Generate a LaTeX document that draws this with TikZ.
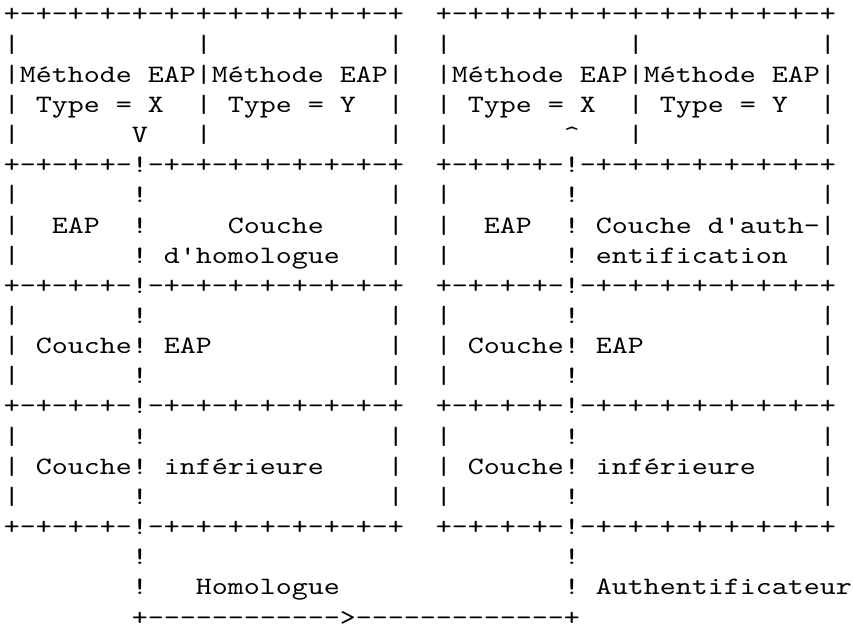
\documentclass[tikz,border=0pt]{standalone}
\usepackage{fontspec}
\setmonofont{lmmono10-regular.otf}[FakeStretch=1.219]
\tikzset{asciiline/.style={anchor=base west, inner sep=0pt, outer sep=0pt,
  font=\ttfamily\fontsize{25pt}{30pt}\selectfont, text=black}}
\begin{document}
\begin{tikzpicture}
\fill[white] (0,0) rectangle (853pt,-631pt);
\useasboundingbox (0,0) rectangle (853pt,-631pt);
\node[asciiline] (l0) at (4pt,-22pt) {+-+-+-+-+-+-+-+-+-+-+-+-+~~+-+-+-+-+-+-+-+-+-+-+-+-+};
\node[asciiline] (l1) at (4pt,-52.15pt) {|~~~~~~~~~~~|~~~~~~~~~~~|~~|~~~~~~~~~~~|~~~~~~~~~~~|};
\node[asciiline] (l2) at (4pt,-82.3pt) {|Méthode~EAP|Méthode~EAP|~~|Méthode~EAP|Méthode~EAP|};
\node[asciiline] (l3) at (4pt,-112.45pt) {|~Type~=~X~~|~Type~=~Y~~|~~|~Type~=~X~~|~Type~=~Y~~|};
\node[asciiline] (l4) at (4pt,-142.6pt) {|~~~~~~~V~~~|~~~~~~~~~~~|~~|~~~~~~~\textasciicircum~~~|~~~~~~~~~~~|};
\node[asciiline] (l5) at (4pt,-172.75pt) {+-+-+-+-!-+-+-+-+-+-+-+-+~~+-+-+-+-!-+-+-+-+-+-+-+-+};
\node[asciiline] (l6) at (4pt,-202.9pt) {|~~~~~~~!~~~~~~~~~~~~~~~|~~|~~~~~~~!~~~~~~~~~~~~~~~|};
\node[asciiline] (l7) at (4pt,-233.05pt) {|~~EAP~~!~~~~~Couche~~~~|~~|~~EAP~~!~Couche~d'auth-|};
\node[asciiline] (l8) at (4pt,-263.2pt) {|~~~~~~~!~d'homologue~~~|~~|~~~~~~~!~entification~~|};
\node[asciiline] (l9) at (4pt,-293.35pt) {+-+-+-+-!-+-+-+-+-+-+-+-+~~+-+-+-+-!-+-+-+-+-+-+-+-+};
\node[asciiline] (l10) at (4pt,-323.5pt) {|~~~~~~~!~~~~~~~~~~~~~~~|~~|~~~~~~~!~~~~~~~~~~~~~~~|};
\node[asciiline] (l11) at (4pt,-353.65pt) {|~Couche!~EAP~~~~~~~~~~~|~~|~Couche!~EAP~~~~~~~~~~~|};
\node[asciiline] (l12) at (4pt,-383.8pt) {|~~~~~~~!~~~~~~~~~~~~~~~|~~|~~~~~~~!~~~~~~~~~~~~~~~|};
\node[asciiline] (l13) at (4pt,-413.95pt) {+-+-+-+-!-+-+-+-+-+-+-+-+~~+-+-+-+-!-+-+-+-+-+-+-+-+};
\node[asciiline] (l14) at (4pt,-444.1pt) {|~~~~~~~!~~~~~~~~~~~~~~~|~~|~~~~~~~!~~~~~~~~~~~~~~~|};
\node[asciiline] (l15) at (4pt,-474.25pt) {|~Couche!~inférieure~~~~|~~|~Couche!~inférieure~~~~|};
\node[asciiline] (l16) at (4pt,-504.4pt) {|~~~~~~~!~~~~~~~~~~~~~~~|~~|~~~~~~~!~~~~~~~~~~~~~~~|};
\node[asciiline] (l17) at (4pt,-534.55pt) {+-+-+-+-!-+-+-+-+-+-+-+-+~~+-+-+-+-!-+-+-+-+-+-+-+-+};
\node[asciiline] (l18) at (4pt,-564.7pt) {~~~~~~~~!~~~~~~~~~~~~~~~~~~~~~~~~~~!};
\node[asciiline] (l19) at (4pt,-594.85pt) {~~~~~~~~!~~~Homologue~~~~~~~~~~~~~~!~Authentificateur};
\node[asciiline] (l20) at (4pt,-625pt) {~~~~~~~~+------------>-------------+};
\end{tikzpicture}
\end{document}
